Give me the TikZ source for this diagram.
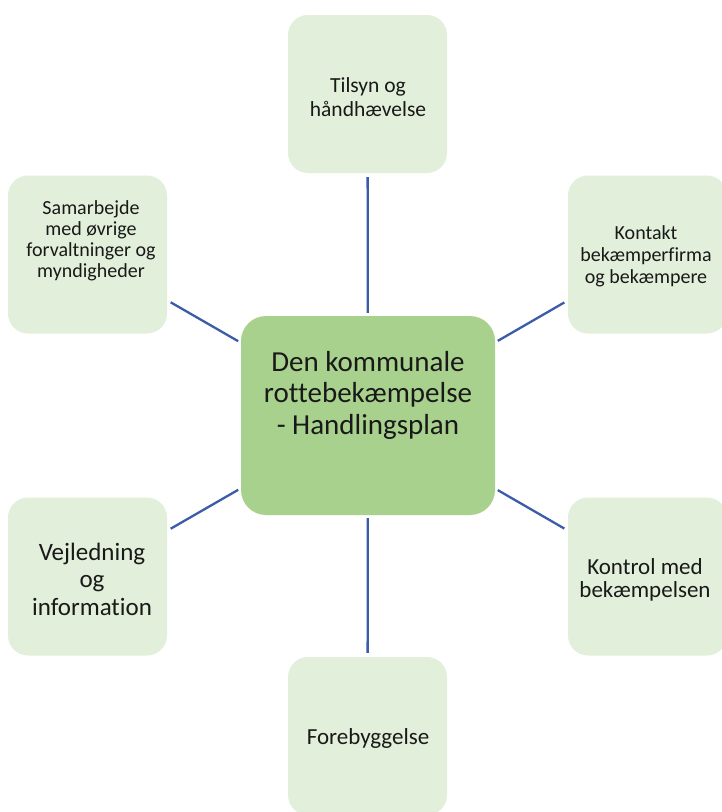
\documentclass[tikz,border=0pt]{standalone}
\usepackage{fontspec}
\setmainfont{Carlito}[Ligatures={NoCommon}]
\definecolor{lightbox}{HTML}{E2EFDA}
\definecolor{centerbox}{HTML}{A9D18E}
\definecolor{conncol}{HTML}{3B5CA8}
\begin{document}
\begin{tikzpicture}[x=1pt,y=-1pt,
  sat/.style={draw=none,fill=lightbox,rounded corners=20pt,minimum width=159pt,minimum height=158pt,inner sep=0pt},
  hub/.style={draw=none,fill=centerbox,rounded corners=25pt,minimum width=254pt,minimum height=199pt,inner sep=0pt},
  conn/.style={draw=conncol,line width=2.3pt,shorten <=4pt,shorten >=3pt},
  lbl/.style={align=center,inner sep=0pt,text=black!90},
]
\useasboundingbox (0,0) rectangle (721,812);
\fill[white] (0,0) rectangle (721,812);
% boxes
\node[hub] (c) at (368,415.5) {};
\node[sat] (t) at (367.5,94) {};
\node[sat] (lt) at (87.5,254.5) {};
\node[sat] (rt) at (647.5,254.5) {};
\node[sat] (lb) at (87.5,576.5) {};
\node[sat] (rb) at (647.5,576.5) {};
\node[sat] (b) at (367.5,736) {};
% connectors
\draw[conn] (t) -- (c);
\draw[conn] (lt) -- (c);
\draw[conn] (rt) -- (c);
\draw[conn] (lb) -- (c);
\draw[conn] (rb) -- (c);
\draw[conn] (b) -- (c);
% labels
\node[lbl,font=\fontsize{29}{31.5}\selectfont] (ct) at (368,395) {Den kommunale\\rottebekæmpelse\\- Handlingsplan};
\node[lbl,font=\fontsize{21.5}{23.5}\selectfont] (tt) at (368,97) {Tilsyn og\\håndhævelse};
\node[lbl,font=\fontsize{20}{21}\selectfont] (ltt) at (91,241) {Samarbejde\\med øvrige\\forvaltninger og\\myndigheder};
\node[lbl,font=\fontsize{20}{22}\selectfont] (rtt) at (646,256) {Kontakt\\bekæmperfirma\\og bekæmpere};
\node[lbl,font=\fontsize{25}{27.5}\selectfont] (lbt) at (92,579) {Vejledning\\og\\information};
\node[lbl,font=\fontsize{23}{23.5}\selectfont] (rbt) at (645,580) {Kontrol med\\bekæmpelsen};
\node[lbl,font=\fontsize{23}{24}\selectfont] (bt) at (368,738) {Forebyggelse};
\end{tikzpicture}
\end{document}
